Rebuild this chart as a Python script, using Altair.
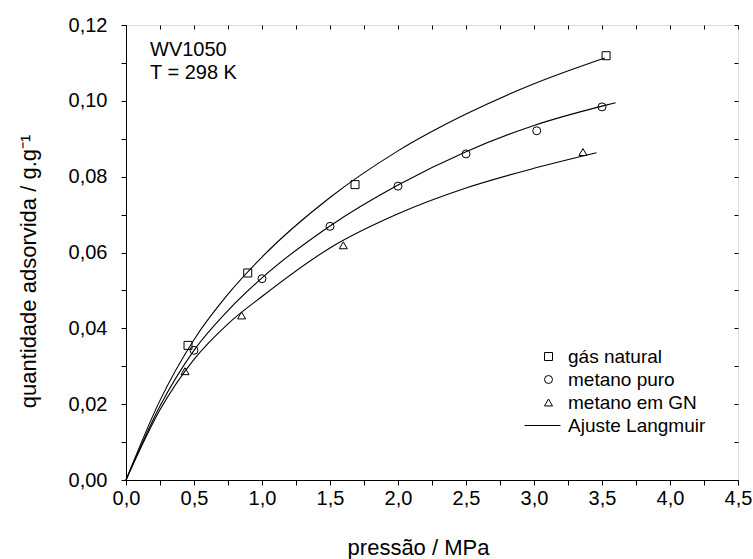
import altair as alt
import pandas as pd

FONT = "Liberation Sans, Arial, sans-serif"

# measured points
gn_p = [0.456, 0.895, 1.684, 3.53]
gn_q = [0.0355, 0.0546, 0.0779, 0.1119]
mp_p = [0.50, 1.00, 1.50, 2.00, 2.50, 3.02, 3.50]
mp_q = [0.0342, 0.0531, 0.0669, 0.0775, 0.0860, 0.0921, 0.0984]
mg_p = [0.434, 0.85, 1.598, 3.36]
mg_q = [0.0287, 0.0434, 0.0619, 0.0865]

# Langmuir fit curves
fit_gn_p = [0, 0.25, 0.5, 0.75, 1.0, 1.5, 2.0, 2.5, 3.0, 3.52]
fit_gn_q = [0, 0.0210, 0.0370, 0.0490, 0.0588, 0.0745, 0.0868, 0.0965, 0.1045, 0.1113]
fit_mp_p = [0, 0.25, 0.5, 0.75, 1.0, 1.5, 2.0, 2.5, 3.0, 3.5, 3.6]
fit_mp_q = [0, 0.0195, 0.0342, 0.0447, 0.0533, 0.0670, 0.0778, 0.0866, 0.0935, 0.0986, 0.0995]
fit_mg_p = [0, 0.25, 0.5, 0.75, 1.0, 1.5, 2.0, 2.5, 3.0, 3.46]
fit_mg_q = [0, 0.0185, 0.0318, 0.0412, 0.0484, 0.0612, 0.0702, 0.0770, 0.0822, 0.0863]

series = ["gás natural", "metano puro", "metano em GN"]
fit_label = "Ajuste Langmuir"
shapes = ["square", "circle", "triangle-up", "M-6,0H3"]

x_ticks = [0, 0.25, 0.5, 0.75, 1.0, 1.25, 1.5, 1.75, 2.0, 2.25, 2.5, 2.75,
           3.0, 3.25, 3.5, 3.75, 4.0, 4.25, 4.5]
y_ticks = [0, 0.01, 0.02, 0.03, 0.04, 0.05, 0.06, 0.07, 0.08, 0.09, 0.10, 0.11, 0.12]

pts = pd.concat([
    pd.DataFrame({"P": gn_p, "q": gn_q, "serie": series[0]}),
    pd.DataFrame({"P": mp_p, "q": mp_q, "serie": series[1]}),
    pd.DataFrame({"P": mg_p, "q": mg_q, "serie": series[2]}),
])
fits = pd.concat([
    pd.DataFrame({"P": fit_gn_p, "q": fit_gn_q, "serie": series[0]}),
    pd.DataFrame({"P": fit_mp_p, "q": fit_mp_q, "serie": series[1]}),
    pd.DataFrame({"P": fit_mg_p, "q": fit_mg_q, "serie": series[2]}),
])

xscale = alt.Scale(domain=[0, 4.5], nice=False, zero=False)
yscale = alt.Scale(domain=[0, 0.12], nice=False, zero=False)

x_label_expr = "round(datum.value*4) % 2 == 0 ? replace(format(datum.value, '.1f'), '.', ',') : ''"
y_label_expr = "round(datum.value*100) % 2 == 0 ? replace(format(datum.value, '.2f'), '.', ',') : ''"

x_bottom = alt.Axis(
    orient="bottom", values=x_ticks, labelExpr=x_label_expr, tickSize=5,
    labelPadding=3, labelFlush=False, labelOverlap=False, grid=False,
    domainColor="black", tickColor="black", labelColor="black",
    labelFont=FONT, labelFontSize=20,
    title="pressão / MPa", titleFont=FONT, titleFontSize=22,
    titleFontWeight="normal", titleColor="black",
    titleX=292, titleY=74, titleBaseline="alphabetic",
)
y_left = alt.Axis(
    orient="left", values=y_ticks, labelExpr=y_label_expr, tickSize=5,
    labelPadding=14, labelOverlap=False, labelFlush=False, grid=False,
    domainColor="black", tickColor="black", labelColor="black",
    labelFont=FONT, labelFontSize=20,
    title="quantidade adsorvida / g.g⁻¹", titleFont=FONT, titleFontSize=22,
    titleFontWeight="normal", titleColor="black",
    titleX=-86, titleY=246, titleAngle=270, titleBaseline="bottom",
)
x_top = alt.Axis(orient="top", values=x_ticks, labels=False, domain=False,
                 tickSize=4, offset=-4, tickColor="black", grid=False, title=None)
y_right = alt.Axis(orient="right", values=y_ticks, labels=False, domain=False,
                   tickSize=4, offset=-4, tickColor="black", grid=False, title=None)

lines = alt.Chart(fits).mark_line(
    color="black", strokeWidth=1.1, interpolate="monotone"
).encode(
    x=alt.X("P:Q", scale=xscale, axis=x_bottom),
    y=alt.Y("q:Q", scale=yscale, axis=y_left),
    detail="serie:N",
)

points = alt.Chart(pts).mark_point(
    filled=False, size=64, strokeWidth=1, color="black", opacity=1
).encode(
    x=alt.X("P:Q", scale=xscale, axis=None),
    y=alt.Y("q:Q", scale=yscale, axis=None),
    shape=alt.Shape(
        "serie:N",
        scale=alt.Scale(domain=series + [fit_label], range=shapes),
        legend=alt.Legend(
            orient="none", legendX=413, legendY=322, title=None,
            labelFont=FONT, labelFontSize=19, labelColor="black",
            symbolSize=64, symbolStrokeColor="black", symbolFillColor="transparent",
            symbolStrokeWidth=1, labelOffset=10, rowPadding=3, padding=0,
        ),
    ),
)

frame = alt.Chart(fits).mark_line(opacity=0).encode(
    x=alt.X("P:Q", scale=xscale, axis=x_top),
    y=alt.Y("q:Q", scale=yscale, axis=y_right),
    detail="serie:N",
)

chart = alt.layer(lines, points, frame).properties(
    width=612, height=455,
    autosize=alt.AutoSizeParams(type="none"),
    padding={"left": 126, "top": 25, "right": 15, "bottom": 79},
    title=alt.TitleParams(
        text=["WV1050", "T = 298 K"], anchor="start", frame="group",
        baseline="top", font=FONT, fontSize=20, fontWeight="normal",
        color="black", lineHeight=23, dx=24, dy=68, offset=0,
    ),
).configure_view(stroke="black", strokeWidth=1).configure(background="white")

chart.save("out.html", embed_options={"renderer": "svg", "actions": False})
